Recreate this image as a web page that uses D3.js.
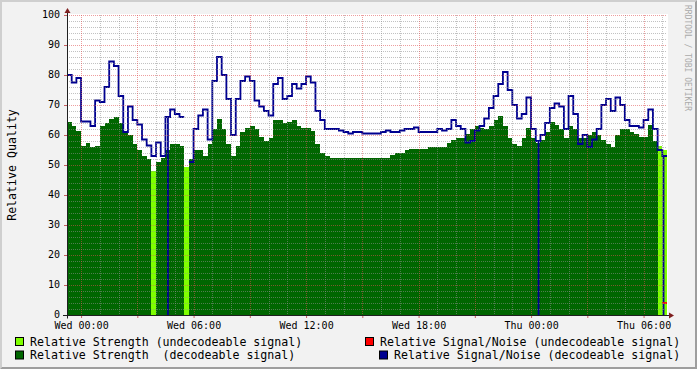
<!DOCTYPE html>
<html>
<head>
<meta charset="utf-8">
<script src="https://cdn.jsdelivr.net/npm/d3@7"></script>
<style>
  body { margin: 0; background: #f2f2f2; }
  svg  { display: block; font-family: "DejaVu Sans Mono", monospace; }
</style>
</head>
<body>
<script>
// samples every 15 minutes, first one at Tue 23:15
const startTime   = "2024-01-02 23:15";
const stepMinutes = 15;

// Relative Strength (decodeable signal), null where the signal was undecodeable
const strengthDecodeable = [
  64.5, 63, 61.5, 56.5, 57.5, 56, 56.5, 63, 64, 65.5,
  66, 64, 61, 60, 57, 55, 53, 52, null, 51,
  52.5, 55, 57, 57, 56.5, null, 52, 55, 55, 53,
  57, 62, 65.5, 62, 57, 53, 56.5, 61, 62.5, 63,
  62, 59.5, 58, 59, 65, 65, 64, 64.5, 65, 63,
  62.5, 62.5, 61.5, 57, 54, 53, 52.5, 52.5, 52.5, 52.5,
  52.5, 52.5, 52.5, 52.5, 52.5, 52.5, 52.5, 52.5, 52.5, 53.5,
  54, 54, 55, 55.5, 55.5, 55.5, 55.5, 56, 56, 56,
  56, 57.5, 58.5, 59, 59, 60.5, 62, 63, 62.5, 62,
  63, 65, 66.5, 63, 59, 57, 56.5, 59, 62.5, 59,
  57.5, 58.5, 61, 64.5, 63.5, 62, 59, 63, 62, 59,
  59, 60, 61, 60, 58.5, 57, 56, 60, 62, 62,
  61, 60.5, 59.5, 59.5, 63.5, 58, null, null
];

// Relative Strength (undecodeable signal): sample index -> value
const undecodeableSlots    = [18, 25, 126, 127];
const strengthUndecodeable = [48, 49.5, 56.5, 55];

// Relative Signal/Noise (decodeable signal)
const snrDecodeable = [
  80, 77.5, 79, 64.5, 64.5, 63, 71.5, 71, 76, 84.5,
  83, 73, 61, 69.5, 65, 63.5, 58.5, 56.5, 53, 57.5,
  53, 66, 68.5, 67, 66, null, 51, 62, 66.5, 68.5,
  58.5, 78, 86, 80, 72, 60, 72, 78, 79.5, 78,
  71.5, 69.5, 68, 66.5, 77, 79, 72, 73, 77, 75.5,
  77, 79.5, 77.5, 68, 65, 62, 62, 62, 61.5, 61,
  60.5, 61, 61, 60.5, 60.5, 60.5, 60.5, 61, 61.5, 61,
  61, 61.5, 62, 62, 62.5, 61, 61, 61, 61, 62,
  61.5, 62, 65, 63, 62, 57.5, 58, 61.5, 63, 65.5,
  69, 73, 77, 81, 75, 70, 65.5, 67, 72.5, 62,
  58, 60, 64, 69, 70.5, 69.5, 62, 73, 67, 57,
  60, 56, 58.5, 62, 70, 72, 68, 72.5, 70, 65,
  63, 63, 62.5, 65, 68.5, 62, 55, 53
];

// short drops of the decodeable S/N to zero
const snrDropouts = ["2024-01-03 04:38", "2024-01-04 00:24", "2024-01-04 07:04"];

// Relative Signal/Noise (undecodeable signal): sample index -> value
const snrUndecodeableSlots = [127];
const snrUndecodeable      = [4];

const yTicks = [0, 10, 20, 30, 40, 50, 60, 70, 80, 90, 100];

const legendLabels = [
  "Relative Strength (undecodeable signal)",
  "Relative Strength  (decodeable signal)",
  "Relative Signal/Noise (undecodeable signal)",
  "Relative Signal/Noise (decodeable signal)"
];
const legendColors = ["#7fff00", "#006600", "#ff0000", "#000090"];

// ---------------------------------------------------------------------------

const W = 697, H = 369;
const plot = {left: 67, top: 15, width: 600, height: 300};
const parseTime = d3.timeParse("%Y-%m-%d %H:%M");
const t0 = parseTime(startTime);
const t1 = d3.timeMinute.offset(t0, strengthDecodeable.length * stepMinutes);

const x = d3.scaleTime().domain([t0, t1]).range([plot.left, plot.left + plot.width]);
const y = d3.scaleLinear().domain([0, 100]).range([plot.top + plot.height, plot.top]);

// expand sample values into flat steps (two points per sample)
function step_points(values) {
    let pts = [];
    values.forEach(function(v, i) {
        let a = d3.timeMinute.offset(t0, i * stepMinutes);
        let b = d3.timeMinute.offset(t0, (i + 1) * stepMinutes);
        pts.push({t: a, v: v}, {t: b, v: v});
    });
    return pts;
}

// build a full length series from index/value lists
function sparse_series(slots, values) {
    let s = strengthDecodeable.map(function() { return null; });
    slots.forEach(function(k, i) { s[k] = values[i]; });
    return s;
}

// insert zero drops into a step series
function add_dropouts(pts, values, times) {
    times.forEach(function(str) {
        let t = parseTime(str);
        let v = values[Math.floor((t - t0) / (stepMinutes * 60000))];
        pts.push({t: t, v: v}, {t: t, v: 0}, {t: t, v: v});
    });
    return pts.sort(function(a, b) { return a.t - b.t; });
}

const svg = d3.select("body").append("svg")
    .attr("width", W)
    .attr("height", H);

// background and 3d frame
svg.append("rect").attr("width", W).attr("height", H).attr("fill", "#f2f2f2");
svg.append("polygon")
    .attr("points", [[0,0],[W,0],[W-2,2],[2,2],[2,H-2],[0,H]].join(" "))
    .attr("fill", "#cfcfcf");
svg.append("polygon")
    .attr("points", [[W,0],[W,H],[0,H],[2,H-2],[W-2,H-2],[W-2,2]].join(" "))
    .attr("fill", "#9e9e9e");

// canvas
svg.append("rect")
    .attr("x", plot.left).attr("y", plot.top - 1)
    .attr("width", plot.width + 1).attr("height", plot.height + 1)
    .attr("fill", "#ffffff");

const area = d3.area()
    .defined(function(d) { return d.v != null; })
    .x(function(d) { return x(d.t); })
    .y0(y(0))
    .y1(function(d) { return y(d.v); });

const line = d3.line()
    .defined(function(d) { return d.v != null; })
    .x(function(d) { return x(d.t); })
    .y(function(d) { return y(d.v); });

svg.append("path")
    .attr("d", area(step_points(strengthDecodeable)))
    .attr("fill", legendColors[1])
    .attr("shape-rendering", "crispEdges");
svg.append("path")
    .attr("d", area(step_points(sparse_series(undecodeableSlots, strengthUndecodeable))))
    .attr("fill", legendColors[0])
    .attr("shape-rendering", "crispEdges");

// blue / red S/N lines
svg.append("path")
    .attr("d", line(add_dropouts(step_points(snrDecodeable), snrDecodeable, snrDropouts)))
    .attr("fill", "none")
    .attr("stroke", legendColors[3])
    .attr("stroke-width", 1.8)
    .attr("stroke-linejoin", "miter");
svg.append("path")
    .attr("d", line(step_points(sparse_series(snrUndecodeableSlots, snrUndecodeable))))
    .attr("fill", "none")
    .attr("stroke", legendColors[2])
    .attr("stroke-width", 1.8);

// grid lines (drawn over the data, as rrdtool does)
const grid = svg.append("g").attr("stroke-dasharray", "1,1").attr("stroke-width", 1);
const px = function(v) { return Math.round(v) + 0.5; };

function hgrid(values, color) {
    grid.selectAll(null).data(values).enter().append("line")
        .attr("x1", plot.left).attr("x2", plot.left + plot.width)
        .attr("y1", function(d) { return px(y(d)); })
        .attr("y2", function(d) { return px(y(d)); })
        .attr("stroke", color);
}
function vgrid(values, color) {
    grid.selectAll(null).data(values).enter().append("line")
        .attr("y1", plot.top).attr("y2", plot.top + plot.height)
        .attr("x1", function(d) { return px(x(d)); })
        .attr("x2", function(d) { return px(x(d)); })
        .attr("stroke", color);
}
const minorColor = "rgba(143,143,143,0.55)";
const majorColor = "rgba(222,79,79,0.55)";
hgrid(d3.range(2, 100, 2).filter(function(v) { return v % 10; }), minorColor);
vgrid(x.ticks(d3.timeHour.every(1)).filter(function(d) { return d.getHours() % 3; }), minorColor);
hgrid(yTicks.slice(1), majorColor);
vgrid(x.ticks(d3.timeHour.every(3)), majorColor);

// axes: tick labels through d3.axis, own axis lines and arrows
const fmt = d3.timeFormat("%a %H:%M");
const xAxis = svg.append("g")
    .attr("transform", "translate(0," + (plot.top + plot.height) + ")")
    .call(d3.axisBottom(x)
        .ticks(d3.timeHour.every(3))
        .tickFormat(function(d) { return d.getHours() % 6 ? "" : fmt(d); })
        .tickSize(3).tickPadding(4));
const yAxis = svg.append("g")
    .attr("transform", "translate(" + plot.left + ",0)")
    .call(d3.axisLeft(y).tickValues(yTicks).tickSize(3).tickPadding(4));

[xAxis, yAxis].forEach(function(g) {
    g.attr("font-family", "'DejaVu Sans Mono', monospace").attr("font-size", 10);
    g.select(".domain").remove();
    g.selectAll(".tick line").attr("stroke", "#c86060");
    g.selectAll(".tick text").attr("fill", "#000");
});
yAxis.selectAll(".tick text").attr("dy", "0.27em");

const axisColor = "#1f1f1f", arrowColor = "#7f1f1f";
const ox = plot.left + 0.5, oy = plot.top + plot.height + 0.5;
svg.append("line").attr("x1", ox).attr("x2", ox).attr("y1", oy + 3).attr("y2", plot.top - 2)
    .attr("stroke", axisColor);
svg.append("line").attr("x1", plot.left - 4).attr("x2", plot.left + plot.width + 3)
    .attr("y1", oy).attr("y2", oy).attr("stroke", axisColor);
svg.append("polygon")
    .attr("points", [[ox - 3, plot.top - 2], [ox + 3, plot.top - 2], [ox, plot.top - 7]].join(" "))
    .attr("fill", arrowColor);
svg.append("polygon")
    .attr("points", [[plot.left + plot.width + 2, oy - 3], [plot.left + plot.width + 2, oy + 3],
                     [plot.left + plot.width + 7, oy]].join(" "))
    .attr("fill", arrowColor);

// y axis title
svg.append("text")
    .attr("transform", "translate(15.5," + (plot.top + plot.height / 2) + ") rotate(-90)")
    .attr("text-anchor", "middle")
    .attr("font-size", 11.6)
    .text("Relative Quality");

// watermark
svg.append("text")
    .attr("transform", "translate(685,5) rotate(90)")
    .attr("font-size", 8)
    .attr("fill", "#aaaaaa")
    .text("RRDTOOL / TOBI OETIKER");

// legend
const legendPos = [[15.5, 337.5, 30, 345.5], [15.5, 351, 30, 359.2],
                   [365.5, 337.5, 380, 345.5], [379.5, 351, 394, 359.2]];
const legend = svg.append("g").selectAll("g").data(legendLabels).enter().append("g");
legend.append("rect")
    .attr("x", function(d, i) { return legendPos[i][0]; })
    .attr("y", function(d, i) { return legendPos[i][1]; })
    .attr("width", 8).attr("height", 8)
    .attr("fill", function(d, i) { return legendColors[i]; })
    .attr("stroke", "#000");
legend.append("text")
    .attr("x", function(d, i) { return legendPos[i][2]; })
    .attr("y", function(d, i) { return legendPos[i][3]; })
    .attr("font-size", 11.6)
    .style("white-space", "pre")
    .text(function(d) { return d; });
</script>
</body>
</html>
